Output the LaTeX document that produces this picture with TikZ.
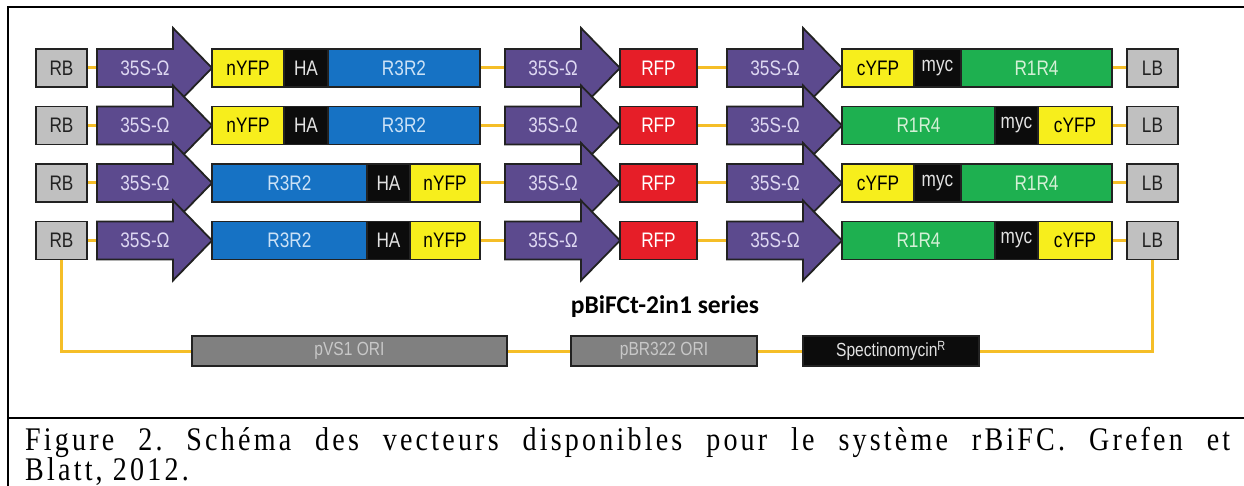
\documentclass[tikz,border=0pt]{standalone}
\usepackage{fontspec}
\setmainfont{Liberation Serif}
\newfontfamily\boxfont[FakeStretch=0.82]{Liberation Sans}
\newfontfamily\titlefont{Carlito}
\newfontfamily\capfont[FakeStretch=0.85,LetterSpace=9.7]{Liberation Serif}
\usetikzlibrary{positioning,calc,backgrounds}
\definecolor{promoPurple}{RGB}{92,74,142}
\definecolor{promoText}{RGB}{222,216,242}
\definecolor{endGrey}{RGB}{192,192,192}
\definecolor{yfpYellow}{RGB}{247,238,28}
\definecolor{rBlue}{RGB}{22,114,196}
\definecolor{rBlueText}{RGB}{204,226,246}
\definecolor{rGreen}{RGB}{30,176,80}
\definecolor{rGreenText}{RGB}{212,240,214}
\definecolor{rfpRed}{RGB}{230,30,40}
\definecolor{tagBlack}{RGB}{12,12,12}
\definecolor{tagText}{RGB}{226,226,226}
\definecolor{wireYellow}{RGB}{245,190,40}
\definecolor{oriGrey}{RGB}{128,128,128}
\definecolor{oriText}{RGB}{200,200,200}
\definecolor{boxLine}{RGB}{34,34,34}
\tikzset{
  seg/.style={draw=boxLine,line width=1.8pt,minimum height=38pt,inner sep=0pt,outer sep=0pt,
    anchor=west,font=\boxfont\fontsize{21}{23}\selectfont},
  endbox/.style={seg,fill=endGrey,text=boxLine,minimum width=51pt},
  yfpseg/.style={fill=yfpYellow,text=black},
  tagseg/.style={fill=tagBlack,text=tagText},
  rthreeseg/.style={fill=rBlue,text=rBlueText},
  roneseg/.style={fill=rGreen,text=rGreenText},
  oribox/.style={seg,minimum height=30pt,fill=oriGrey,text=oriText,font=\boxfont\fontsize{19}{21}\selectfont},
  promo/.style={draw=boxLine,line width=1.8pt,fill=promoPurple,line join=miter},
  promotext/.style={text=promoText,font=\boxfont\fontsize{21}{23}\selectfont,inner sep=0pt},
  wire/.style={draw=wireYellow,line width=3pt},
  capline/.style={font=\capfont\fontsize{33}{33}\selectfont\frenchspacing,inner sep=0pt,anchor=base west}
}
% promoter arrow: name, tail x, centre y
\newcommand{\promoter}[3]{%
  \draw[promo] (#2,#3-19) -- ++(76,0) -- ++(0,-21) -- (#2+115,#3) -- (#2+76,#3+40)
    -- ++(0,-21) -- (#2,#3+19) -- cycle;
  \coordinate (#1-tail) at (#2,#3);
  \node[promotext] (#1) at (#2+48,#3) {35S-Ω};}
\begin{document}
\begin{tikzpicture}[x=1pt,y=-1pt]
\useasboundingbox (0,0) rectangle (1244,486);
% frame
\draw[line width=2.2pt] (8,486) -- (8,7) -- (1244,7);
\draw[line width=2.2pt] (8,418) -- (1244,418);
% common parts of the four constructs
\foreach \r/\y in {1/68,2/125.5,3/183,4/240.5} {
  \node[endbox] (rb\r) at (36,\y) {RB};
  \promoter{pa\r}{97}{\y}
  \promoter{pb\r}{505}{\y}
  \node[seg,fill=rfpRed,text=white,minimum width=77pt] (rfp\r) at (620,\y) {RFP};
  \promoter{pc\r}{727}{\y}
  \node[endbox] (lb\r) at (1127,\y) {LB};
}
% row 1
\node[seg,yfpseg,minimum width=72pt] (nyfp1) at (212,68) {nYFP};
\node[seg,tagseg,minimum width=44pt,right=0pt of nyfp1] (ha1) {HA};
\node[seg,rthreeseg,minimum width=152pt,right=0pt of ha1] (rr1) {R3R2};
\node[seg,yfpseg,minimum width=72pt] (cyfp1) at (842,68) {cYFP};
\node[seg,tagseg,minimum width=47pt,right=0pt of cyfp1] (myc1) {myc};
\node[seg,roneseg,minimum width=151pt,right=0pt of myc1] (rl1) {R1R4};
% row 2
\node[seg,yfpseg,minimum width=72pt] (nyfp2) at (212,125.5) {nYFP};
\node[seg,tagseg,minimum width=44pt,right=0pt of nyfp2] (ha2) {HA};
\node[seg,rthreeseg,minimum width=152pt,right=0pt of ha2] (rr2) {R3R2};
\node[seg,roneseg,minimum width=153pt] (rl2) at (842,125.5) {R1R4};
\node[seg,tagseg,minimum width=43pt,right=0pt of rl2] (myc2) {myc};
\node[seg,yfpseg,minimum width=74pt,right=0pt of myc2] (cyfp2) {cYFP};
% row 3
\node[seg,rthreeseg,minimum width=155pt] (rr3) at (212,183) {R3R2};
\node[seg,tagseg,minimum width=43pt,right=0pt of rr3] (ha3) {HA};
\node[seg,yfpseg,minimum width=70pt,right=0pt of ha3] (nyfp3) {nYFP};
\node[seg,yfpseg,minimum width=72pt] (cyfp3) at (842,183) {cYFP};
\node[seg,tagseg,minimum width=47pt,right=0pt of cyfp3] (myc3) {myc};
\node[seg,roneseg,minimum width=151pt,right=0pt of myc3] (rl3) {R1R4};
% row 4
\node[seg,rthreeseg,minimum width=155pt] (rr4) at (212,240.5) {R3R2};
\node[seg,tagseg,minimum width=43pt,right=0pt of rr4] (ha4) {HA};
\node[seg,yfpseg,minimum width=70pt,right=0pt of ha4] (nyfp4) {nYFP};
\node[seg,roneseg,minimum width=153pt] (rl4) at (842,240.5) {R1R4};
\node[seg,tagseg,minimum width=43pt,right=0pt of rl4] (myc4) {myc};
\node[seg,yfpseg,minimum width=74pt,right=0pt of myc4] (cyfp4) {cYFP};
% backbone
\node[font=\titlefont\bfseries\fontsize{25.5}{27}\selectfont,anchor=base] (series) at (665,313) {pBiFCt-2in1 series};
\node[oribox,minimum width=315pt] (pvs) at (192,351) {pVS1 ORI};
\node[oribox,minimum width=186pt] (pbr) at (571,351) {pBR322 ORI};
\node[oribox,fill=tagBlack,text=tagText,minimum width=176pt] (spec) at (803,351) {Spectinomycin\textsuperscript{R}};
\begin{scope}[on background layer]
\foreach \r/\le/\re in {1/rr1/rl1,2/rr2/cyfp2,3/nyfp3/rl3,4/nyfp4/cyfp4} {
  \draw[wire] (rb\r.east) -- (pa\r-tail);
  \draw[wire] (\le.east) -- (pb\r-tail);
  \draw[wire] (rfp\r.east) -- (pc\r-tail);
  \draw[wire] (\re.east) -- (lb\r.west);
}
\draw[wire] (rb4.south) |- (pvs.west);
\draw[wire] (pvs) -- (pbr);
\draw[wire] (pbr) -- (spec);
\draw[wire] (spec.east) -| (lb4.south);
\end{scope}
% caption
\node[capline] (capone) at (25,450) {\makebox[1205pt][s]{Figure 2. Schéma des vecteurs disponibles pour le système rBiFC. Grefen et}};
\node[capline] (captwo) at (25,480) {Blatt, 2012.};
\end{tikzpicture}
\end{document}
